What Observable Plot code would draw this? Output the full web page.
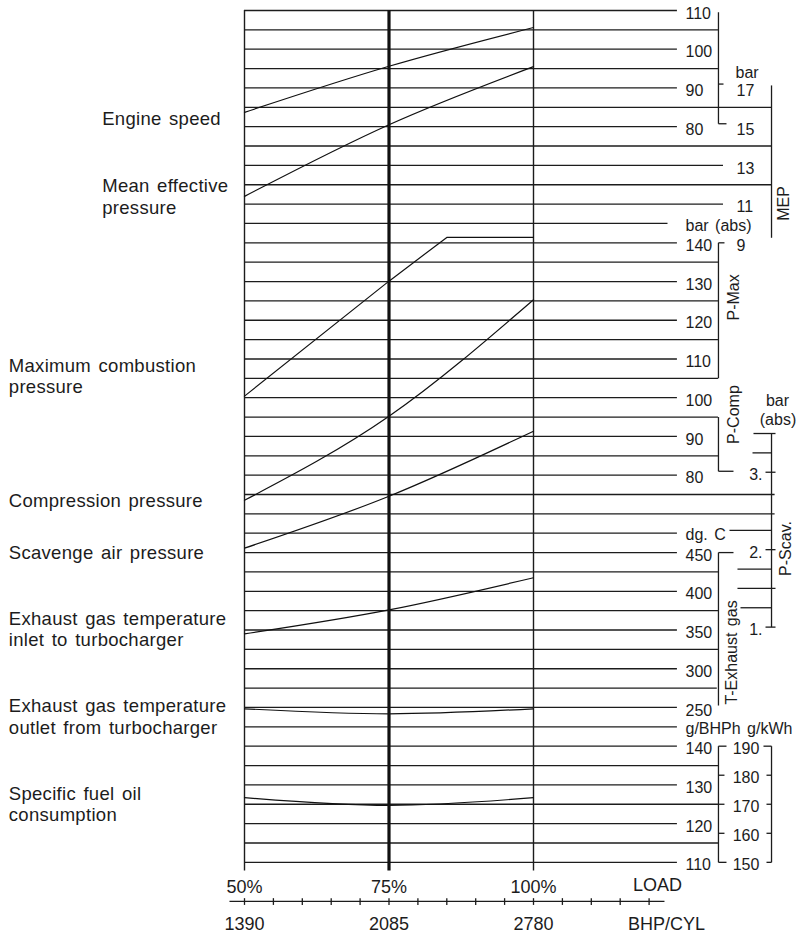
<!DOCTYPE html>
<html><head><meta charset="utf-8">
<script src="https://cdn.jsdelivr.net/npm/d3@7"></script>
<script src="https://cdn.jsdelivr.net/npm/@observablehq/plot@0.6"></script>
<style>body{margin:0;background:#fff} svg{display:block}</style>
</head><body><div id="chart"></div>
<script>
// ---------- data ----------
const loadPct = [50, 75, 100];
const loadLabels = ["50%", "75%", "100%"];
const bhpCyl = [1390, 2085, 2780];
const loadMinor = [50, 55, 60, 65, 70, 75, 80, 85, 90, 95, 100, 105, 110, 115, 120];

const engineSpeed = [83.7, 95.6, 105.6];          // r/min
const meanEffPressure = [11.4, 15.1, 18.1];       // bar
const pMaxLoad = [50, 75, 85, 100];
const pMax = [100.4, 130.1, 141.4, 141.4];        // bar (abs)
const pComp = [73.5, 95.2, 125.3];                // bar (abs)
const pScav = [2.02, 2.69, 3.53];                 // bar (abs)
const tExhIn = [345, 376, 417.5];                 // dg. C
const tExhOut = [248.3, 241.8, 248.3];            // dg. C
const sfoc = [126.7, 124.7, 126.7];               // g/BHPh

const speedTicks = [110, 100, 90, 80];
const pressTicks = [140, 130, 120, 110, 100, 90, 80];
const tempTicks = [450, 400, 350, 300, 250];
const sfocTicks = [140, 130, 120, 110];
const mepTicks = [17, 15, 13, 11, 9];
const kwhTicks = [190, 180, 170, 160, 150];
const scavTicks = [3, 2, 1];
const scavMinor = [3.5, 3.25, 3, 2.25, 2, 1.75, 1.5, 1.25, 1];

const leftLabels = [
  {t: "Engine speed", row: 5.63, ind: 1},
  {t: "Mean effective", row: 9.08, ind: 1},
  {t: "pressure", row: 10.19, ind: 1},
  {t: "Maximum combustion", row: 18.39, ind: 0},
  {t: "pressure", row: 19.47, ind: 0},
  {t: "Compression pressure", row: 25.35, ind: 0},
  {t: "Scavenge air pressure", row: 28.03, ind: 0},
  {t: "Exhaust gas temperature", row: 31.42, ind: 0},
  {t: "inlet to turbocharger", row: 32.54, ind: 0},
  {t: "Exhaust gas temperature", row: 35.92, ind: 0},
  {t: "outlet from turbocharger", row: 37.05, ind: 0},
  {t: "Specific fuel oil", row: 40.46, ind: 0},
  {t: "consumption", row: 41.58, ind: 0}
];

// ---------- layout (x in % load, y in grid rows) ----------
const L = 124.9, B = 132.0, M = 132.87, O = 141.18, O2 = 141.8;
const rowEnd = [L,B,L,B,L,O,L,O,M,O,M,123.27,L,B,L,B,L,B,L,B,L,B,L,B,L,O2,O2,L,L,B,L,B,L,B,L,131.8,L,L,L,B,L,B,L,B,L];

const rowOf = {
  speed: v => (110 - v) / 5,
  mep: v => 4 + (17 - v),
  press: v => 12 + (140 - v) / 5,
  scav: v => 23.85 + (3 - v) * 4,
  temp: v => 28 + (450 - v) / 25,
  sfoc: v => 38 + (140 - v) / 5,
  kwh: v => 38 + (190 - v) * 0.15
};

const FONT = "'Liberation Sans', Arial, Helvetica, sans-serif";
const LBLX = 126.3;
const INK = "#1c1c1c";

const grid = rowEnd.map((e, i) => ({row: i, end: e}));

const seg = [];
const S = (x1, y1, x2, y2) => seg.push({x1, y1, x2, y2});
// engine speed bracket
S(B, 0.09, B, 5.85); S(B, 3.8, M, 3.8); S(B, 5.85, 133.39, 5.85);
// MEP axis
S(O, 3.87, O, 11.74);
// P-Max bracket
S(B, 12, 133.04, 12); S(B, 12, B, 19);
// P-Comp bracket
S(B, 21, B, 23.8); S(B, 23.8, 134.6, 23.8);
// P-Scav axis and ticks
S(O, rowOf.scav(3.5), O, rowOf.scav(1));
const scavTickX = {3.5: [138.06, 141.87], 3.25: [137.89, O], 3: [140.14, 141.87], 2.25: [133.91, O],
  2: [140.14, 141.87], 1.75: [135.29, O], 1.5: [135.29, 141.87], 1.25: [135.81, O], 1: [140.14, 141.87]};
scavMinor.forEach(v => S(scavTickX[v][0], rowOf.scav(v), scavTickX[v][1], rowOf.scav(v)));
// T-Exhaust bracket
S(B, 28, 134.6, 28); S(B, 28, B, 35.9);
// SFOC brackets
S(B, 38, B, 44); S(B, 38, 133.39, 38); S(B, 44, 133.39, 44);
[180, 170, 160].forEach(v => S(B, rowOf.kwh(v), 133.04, rowOf.kwh(v)));
S(O, 38, O, 44);
kwhTicks.forEach(v => S(v === 190 ? 139.79 : 140.31, rowOf.kwh(v), O, rowOf.kwh(v)));
// bottom load axis
S(47.4, 46.02, 122.66, 46.02);
loadMinor.forEach(v => S(v, 45.85, v, 46.2));

const series = (xs, ys, f) => xs.map((x, i) => ({x, y: f(ys[i])}));
const curves = [
  {d: series(loadPct, engineSpeed, rowOf.speed), c: "natural"},
  {d: series(loadPct, meanEffPressure, rowOf.mep), c: "natural"},
  {d: series(pMaxLoad, pMax, rowOf.press), c: "linear"},
  {d: series(loadPct, pComp, rowOf.press), c: "natural"},
  {d: series(loadPct, pScav, rowOf.scav), c: "natural"},
  {d: series(loadPct, tExhIn, rowOf.temp), c: "natural"},
  {d: series(loadPct, tExhOut, rowOf.temp), c: "natural"},
  {d: series(loadPct, sfoc, rowOf.sfoc), c: "natural"}
];

const rightText = (vals, f) => Plot.text(vals, {
  x: () => LBLX, y: v => f(v), text: v => String(v),
  textAnchor: "start", dy: 3, fontSize: 16, fill: INK
});

const rotLabels = [
  {t: "MEP", x: 143.25, y: 9.97},
  {t: "P-Max", x: 134.6, y: 14.82},
  {t: "P-Comp", x: 134.6, y: 20.87},
  {t: "P-Scav.", x: 143.6, y: 27.79},
  {t: "T-Exhaust gas", x: 134.4, y: 33.16}
];
const unitStart = [
  {t: "bar (abs)", x: LBLX, y: 11},
  {t: "dg. C", x: LBLX, y: 27},
  {t: "g/BHPh g/kWh", x: LBLX, y: 37},
  {t: "bar", x: 134.95, y: 3.1}
];
const unitMid = [
  {t: "bar", x: 142.21, y: 20.04},
  {t: "(abs)", x: 142.3, y: 21.02}
];

const chart = Plot.plot({
  width: 797, height: 936, margin: 0,
  x: {domain: [7.785, 145.675], range: [0, 797], axis: null},
  y: {domain: [-10 / 19.36, 926 / 19.36], range: [0, 936], axis: null},
  style: {fontFamily: FONT, background: "#fff", color: INK},
  marks: [
    Plot.ruleY(grid, {y: "row", x1: () => 50, x2: "end", stroke: INK, strokeWidth: 1.3}),
    Plot.ruleX(loadPct.filter(v => v !== 75), {x: d => d, y1: () => 0, y2: () => 44.45, stroke: INK, strokeWidth: 1.4}),
    Plot.ruleX([75], {x: d => d, y1: () => 0, y2: () => 44.45, stroke: "#111", strokeWidth: 3.2}),
    Plot.link(seg, {x1: "x1", y1: "y1", x2: "x2", y2: "y2", stroke: INK, strokeWidth: 1.3}),
    ...curves.map(s => Plot.line(s.d, {x: "x", y: "y", curve: s.c, stroke: "#111", strokeWidth: 1.2})),
    rightText(speedTicks, rowOf.speed),
    rightText(pressTicks, rowOf.press),
    rightText(tempTicks, rowOf.temp),
    rightText(sfocTicks, rowOf.sfoc),
    Plot.text(mepTicks, {x: () => 135.12, y: v => rowOf.mep(v), text: v => String(v), textAnchor: "start", dy: 3, fontSize: 16, fill: INK}),
    Plot.text(kwhTicks, {x: () => 136.76, y: v => rowOf.kwh(v), text: v => String(v), textAnchor: "middle", dy: 3, fontSize: 16, fill: INK}),
    Plot.text(scavTicks, {x: () => 139.62, y: v => rowOf.scav(v), text: v => v + ".", textAnchor: "end", dy: 3, fontSize: 16, fill: INK}),
    Plot.text(unitStart, {x: "x", y: "y", text: "t", textAnchor: "start", dy: 2, fontSize: 16, fill: INK}),
    Plot.text(unitMid, {x: "x", y: "y", text: "t", textAnchor: "middle", dy: 2, fontSize: 16, fill: INK}),
    Plot.text(rotLabels, {x: "x", y: "y", text: "t", rotate: -90, fontSize: 16, fill: INK}),
    Plot.text(leftLabels, {x: d => d.ind ? 25.38 : 9.22, y: "row", text: "t", textAnchor: "start", fontSize: 18.5, fill: INK, className: "lefttxt"}),
    Plot.text(loadPct, {x: d => d, y: () => 45.3, text: (d, i) => loadLabels[i], fontSize: 18, fill: INK}),
    Plot.text(bhpCyl, {x: (d, i) => loadPct[i], y: () => 47.2, text: d => String(d), fontSize: 18, fill: INK}),
    Plot.text(["LOAD"], {x: () => 121.45, y: () => 45.2, text: d => d, fontSize: 18, fill: INK}),
    Plot.text(["BHP/CYL"], {x: () => 123.0, y: () => 47.2, text: d => d, fontSize: 18, fill: INK})
  ]
});
chart.querySelectorAll("text").forEach(t => { t.style.wordSpacing = "2px"; });
chart.querySelectorAll("g.lefttxt text").forEach(t => { t.style.letterSpacing = "0.3px"; });
document.getElementById("chart").append(chart);
</script>
</body></html>
